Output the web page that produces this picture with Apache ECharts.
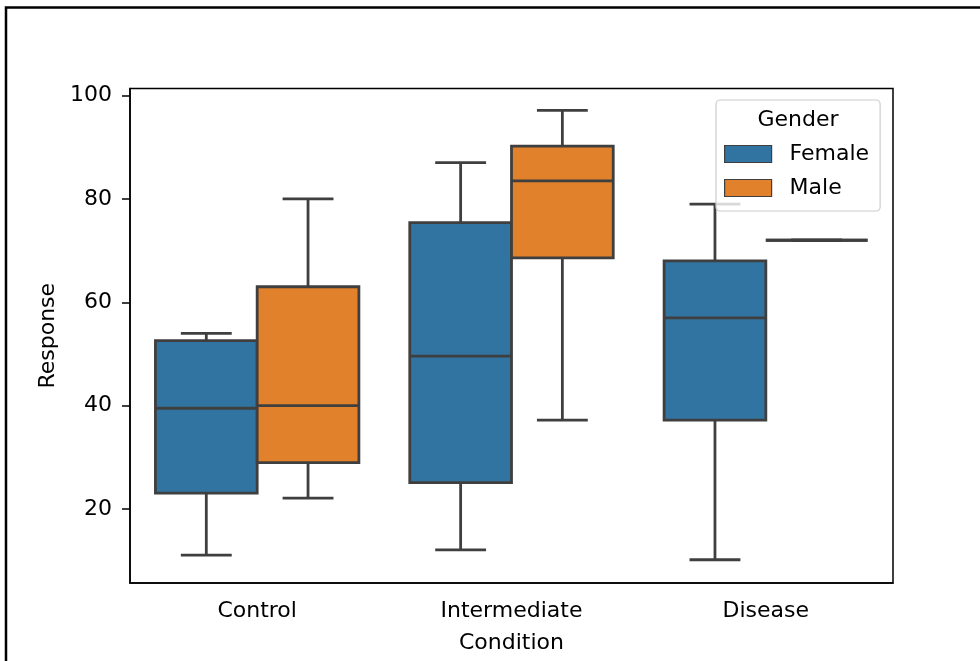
<!DOCTYPE html>
<html>
<head>
<meta charset="utf-8">
<script src="https://cdn.jsdelivr.net/npm/echarts@6/dist/echarts.min.js"></script>
<style>
  html, body { margin: 0; padding: 0; background: #fff; }
  #chart { width: 980px; height: 661px; }
</style>
</head>
<body>
<div id="chart"></div>
<script>
// categories on the x axis
const conditions = ["Control", "Intermediate", "Disease"];
// box stats per condition: [min, Q1, median, Q3, max]
const femaleBoxes = [
  [11.1, 23.1, 39.5, 52.6, 54.0],
  [12.1, 25.1, 49.6, 75.4, 87.0],
  [10.2, 37.2, 57.0, 68.0, 79.0],
];
const maleBoxes = [
  [22.1, 29.0, 40.0, 63.0, 80.0],
  [37.2, 68.6, 83.5, 90.2, 97.1],
  [72.0, 72.0, 72.0, 72.0, 72.0],
];
const yTicks = [20, 40, 60, 80, 100];

const edgeColor = "#3f3f3f";
const font = "DejaVu Sans";

// 把箱线数据变成 [类别序号, min, Q1, median, Q3, max]
function toRows(boxes) {
  return boxes.map((b, i) => [i].concat(b));
}

/* 画一个箱体, offset 是相对类别中心的偏移 (按带宽比例) */
function renderBox(offset) {
  return function (params, api) {
    const band = api.size([1, 0])[0];
    const w = band * 0.4;
    const cx = api.coord([api.value(0), 0])[0] + offset * band;
    const y = (i) => api.coord([api.value(0), api.value(i)])[1];
    const yMin = y(1), q1 = y(2), med = y(3), q3 = y(4), yMax = y(5);
    const cap = w / 4;
    const ls = { stroke: edgeColor, lineWidth: 2.8 };
    return {
      type: "group",
      children: [
        { type: "line", shape: { x1: cx, y1: q3, x2: cx, y2: yMax }, style: ls },
        { type: "line", shape: { x1: cx, y1: q1, x2: cx, y2: yMin }, style: ls },
        { type: "line", shape: { x1: cx - cap, y1: yMax, x2: cx + cap, y2: yMax }, style: ls },
        { type: "line", shape: { x1: cx - cap, y1: yMin, x2: cx + cap, y2: yMin }, style: ls },
        {
          type: "rect",
          shape: { x: cx - w / 2, y: q3, width: w, height: q1 - q3 },
          style: { fill: api.visual("color"), stroke: edgeColor, lineWidth: 2.8 },
        },
        { type: "line", shape: { x1: cx - w / 2, y1: med, x2: cx + w / 2, y2: med }, style: ls },
      ],
    };
  };
}

const chart = echarts.init(document.getElementById("chart"));
chart.setOption({
  animation: false,
  backgroundColor: "#fff",
  textStyle: { fontFamily: font },
  grid: {
    left: 130, top: 88.5, right: 87, bottom: 78,
    show: true, borderColor: "#000", borderWidth: 1.5,
  },
  graphic: [
    {
      type: "rect",
      shape: { x: 6, y: 7.5, width: 1200, height: 1200 },
      style: { fill: "none", stroke: "#000", lineWidth: 2.5 },
      z: 100,
    },
    {
      type: "text",
      x: 798, y: 120,
      style: {
        text: "Gender", fontFamily: font, fontSize: 22, fill: "#000",
        align: "center", verticalAlign: "middle",
      },
      z: 100,
    },
  ],
  legend: {
    data: ["Female", "Male"],
    orient: "vertical",
    left: 716, top: 100,
    padding: [43, 11, 12, 8],
    itemWidth: 47, itemHeight: 17, itemGap: 12,
    icon: "rect",
    borderColor: "#cccccc", borderWidth: 1.2, borderRadius: 4,
    backgroundColor: "rgba(255,255,255,0.8)",
    itemStyle: { borderColor: edgeColor, borderWidth: 1.2 },
    textStyle: { fontFamily: font, fontSize: 22, color: "#000", padding: [0, 0, 0, 13] },
  },
  xAxis: {
    type: "category",
    data: conditions,
    name: "Condition",
    nameLocation: "middle",
    nameGap: 49,
    nameTextStyle: { fontFamily: font, fontSize: 22, color: "#000" },
    axisLine: { lineStyle: { color: "#000", width: 1.5 } },
    axisTick: { alignWithLabel: true, length: 8, lineStyle: { color: "#000", width: 1.5 } },
    axisLabel: { margin: 17, fontFamily: font, fontSize: 22, color: "#000" },
    splitLine: { show: false },
  },
  yAxis: {
    type: "value",
    min: 5.7, max: 101.35,
    name: "Response",
    nameLocation: "middle",
    nameGap: 65,
    nameTextStyle: { fontFamily: font, fontSize: 22, color: "#000" },
    axisLine: { show: true, lineStyle: { color: "#000", width: 1.5 } },
    axisTick: { show: true, length: 8, customValues: yTicks, lineStyle: { color: "#000", width: 1.5 } },
    axisLabel: { margin: 18, customValues: yTicks, fontFamily: font, fontSize: 22, color: "#000" },
    splitLine: { show: false },
  },
  series: [
    {
      name: "Female",
      type: "custom",
      renderItem: renderBox(-0.2),
      itemStyle: { color: "#3274a1" },
      encode: { x: 0, y: [1, 2, 3, 4, 5] },
      data: toRows(femaleBoxes),
    },
    {
      name: "Male",
      type: "custom",
      renderItem: renderBox(0.2),
      itemStyle: { color: "#e1812c" },
      encode: { x: 0, y: [1, 2, 3, 4, 5] },
      data: toRows(maleBoxes),
    },
  ],
});

window.addEventListener("resize", function () {
  chart.resize();
});
</script>
</body>
</html>
